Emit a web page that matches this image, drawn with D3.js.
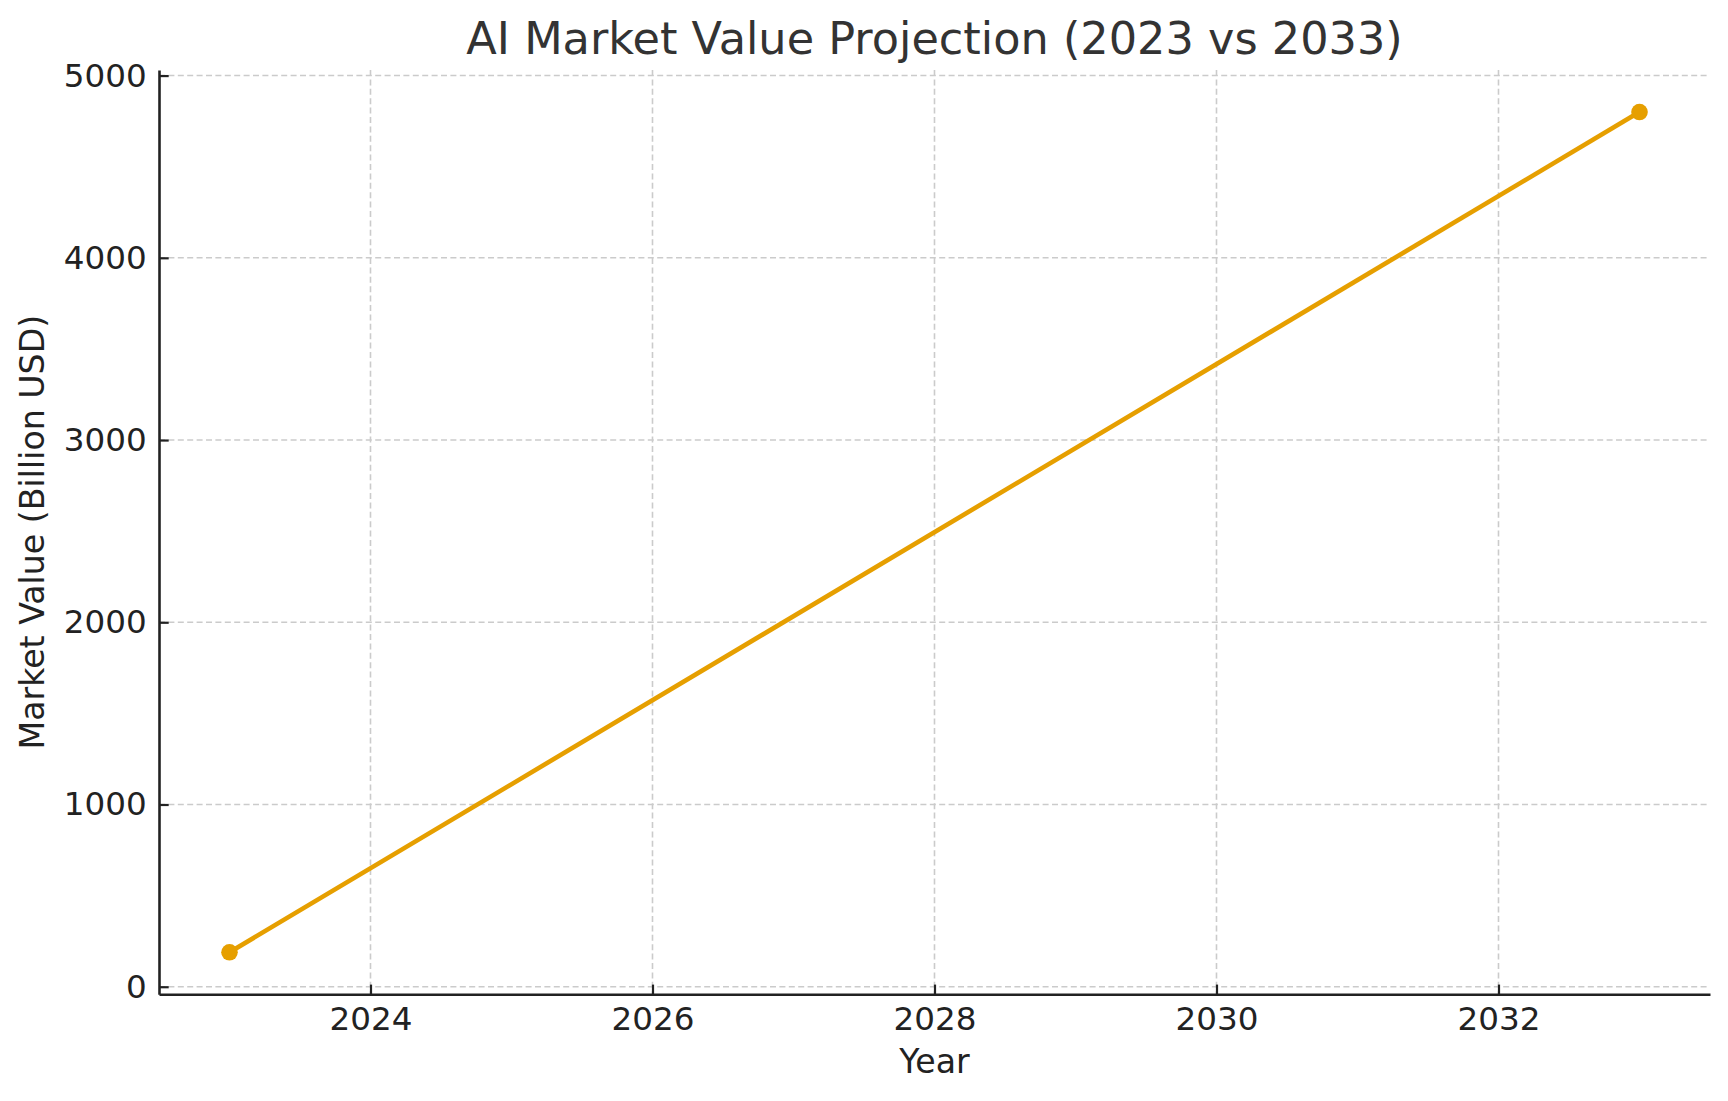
<!DOCTYPE html>
<html>
<head>
<meta charset="utf-8">
<script src="https://cdnjs.cloudflare.com/ajax/libs/d3/7.8.5/d3.min.js"></script>
<style>
	html, body { margin:0; padding:0; background:#ffffff; }
	svg { display:block; font-family:"DejaVu Sans", sans-serif; }
</style>
</head>
<body>
<div id="chart_div"></div>
<script>
////////////////////////////////////////
////////////////////////////////////////
////////////////////////////////////////

var years = [2023, 2033];
var marketValue = [189, 4800];
var xTicks = [2024, 2026, 2028, 2030, 2032];
var yTicks = [0, 1000, 2000, 3000, 4000, 5000];

var chartTitle = 'AI Market Value Projection (2023 vs 2033)';
var xLabel = 'Year';
var yLabel = 'Market Value (Billion USD)';

////////////////////////////////////////
////////////////////////////////////////
////////////////////////////////////////

var chart_w = 1728;
var chart_h = 1101;

var plot_left = 159;
var plot_right = 1710;
var plot_top = 70;
var plot_bottom = 994.3;

var lineColor = '#e69f00';
var tickColor = '#222222';

// matplotlib style 5% margins around the data
var xPad = (d3.max(years)-d3.min(years))*0.05;
var yPad = (d3.max(marketValue)-d3.min(marketValue))*0.05;

var xScale = d3.scaleLinear()
	.domain([d3.min(years)-xPad, d3.max(years)+xPad])
	.range([plot_left, plot_right]);

var yScale = d3.scaleLinear()
	.domain([d3.min(marketValue)-yPad, d3.max(marketValue)+yPad])
	.range([plot_bottom, plot_top]);

var chartSVG = d3.select('#chart_div').append('svg')
	.attr('width', chart_w)
	.attr('height', chart_h);

////////////////////////////////////////
////////////////////////////////////////
////////////////////////////////////////

// grid
chartSVG.append('g')
	.selectAll('line')
	.data(xTicks)
	.enter()
	.append('line')
	.attr('x1', function(d){ return xScale(d); })
	.attr('x2', function(d){ return xScale(d); })
	.attr('y1', plot_top)
	.attr('y2', plot_bottom)
	.attr('stroke', '#cbcbcb')
	.attr('stroke-width', 1.6)
	.attr('stroke-dasharray', '6,3.4');

chartSVG.append('g')
	.selectAll('line')
	.data(yTicks)
	.enter()
	.append('line')
	.attr('x1', plot_left)
	.attr('x2', plot_right)
	.attr('y1', function(d){ return yScale(d); })
	.attr('y2', function(d){ return yScale(d); })
	.attr('stroke', '#cbcbcb')
	.attr('stroke-width', 1.6)
	.attr('stroke-dasharray', '6,3.4');

////////////////////////////////////////
////////////////////////////////////////
////////////////////////////////////////

// axes, ticks point inward
var xAxis = d3.axisBottom(xScale)
	.tickValues(xTicks)
	.tickFormat(d3.format('d'))
	.tickSizeInner(-9.7)
	.tickSizeOuter(0)
	.tickPadding(12.3);

var yAxis = d3.axisLeft(yScale)
	.tickValues(yTicks)
	.tickFormat(d3.format('d'))
	.tickSizeInner(-9.7)
	.tickSizeOuter(0)
	.tickPadding(12.3);

var xAxisG = chartSVG.append('g')
	.attr('transform', 'translate(0,'+plot_bottom+')')
	.call(xAxis);

var yAxisG = chartSVG.append('g')
	.attr('transform', 'translate('+plot_left+',0)')
	.call(yAxis);

[xAxisG, yAxisG].forEach(function(g){
	g.select('.domain')
		.attr('stroke', tickColor)
		.attr('stroke-width', 2.6);
	g.selectAll('.tick line')
		.attr('stroke', tickColor)
		.attr('stroke-width', 2.2);
	g.selectAll('.tick text')
		.attr('fill', tickColor)
		.attr('font-family', '"DejaVu Sans", sans-serif')
		.attr('font-size', 32.6);
});

////////////////////////////////////////
////////////////////////////////////////
////////////////////////////////////////

var points = years.map(function(y, i){ return [y, marketValue[i]]; });

var line = d3.line()
	.x(function(d){ return xScale(d[0]); })
	.y(function(d){ return yScale(d[1]); });

chartSVG.append('path')
	.datum(points)
	.attr('d', line)
	.attr('fill', 'none')
	.attr('stroke', lineColor)
	.attr('stroke-width', 4.6)
	.attr('stroke-linecap', 'square');

chartSVG.append('g')
	.selectAll('circle')
	.data(points)
	.enter()
	.append('circle')
	.attr('cx', function(d){ return xScale(d[0]); })
	.attr('cy', function(d){ return yScale(d[1]); })
	.attr('r', 8.3)
	.attr('fill', lineColor);

////////////////////////////////////////
////////////////////////////////////////
////////////////////////////////////////

chartSVG.append('text')
	.attr('x', (plot_left+plot_right)/2)
	.attr('y', 54)
	.attr('text-anchor', 'middle')
	.attr('fill', '#333333')
	.attr('font-size', 44.6)
	.text(chartTitle);

chartSVG.append('text')
	.attr('x', (plot_left+plot_right)/2)
	.attr('y', 1072.7)
	.attr('text-anchor', 'middle')
	.attr('fill', tickColor)
	.attr('font-size', 33.2)
	.text(xLabel);

chartSVG.append('text')
	.attr('transform', 'translate(44,'+((plot_top+plot_bottom)/2)+') rotate(-90)')
	.attr('text-anchor', 'middle')
	.attr('fill', tickColor)
	.attr('font-size', 33.2)
	.text(yLabel);
</script>
</body>
</html>
